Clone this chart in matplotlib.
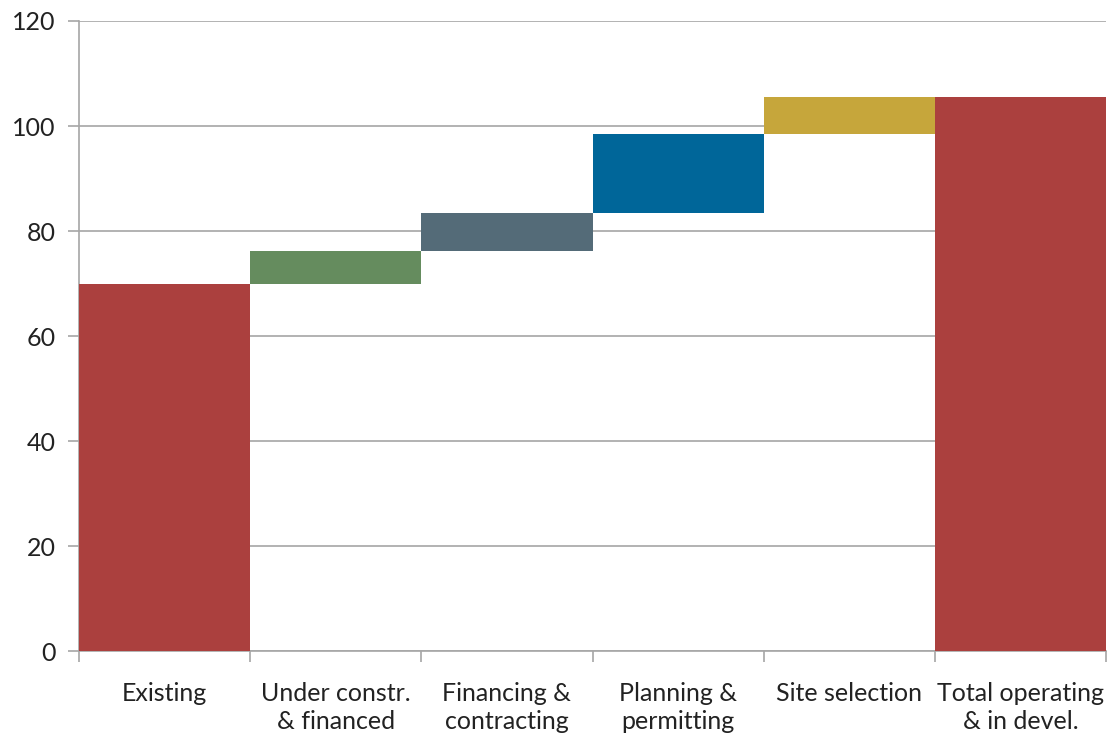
import matplotlib.pyplot as plt
import numpy as np

# waterfall: existing capacity plus pipeline stages
categories = ['Existing', 'Under constr.\n& financed', 'Financing &\ncontracting',
              'Planning &\npermitting', 'Site selection', 'Total operating\n& in devel.']
existing = 70.0
increments = [6.2, 7.2, 15.1, 7.0]
colors = ['#AB403E', '#658C5E', '#546B78', '#006699', '#C6A63B', '#AB403E']

steps = np.cumsum([existing] + increments)
total = steps[-1]
heights = [existing] + increments + [total]
bottoms = [0] + list(steps[:-1]) + [0]

plt.rcParams['font.family'] = ['Lato', 'DejaVu Sans']

fig = plt.figure(figsize=(11.15, 7.42), dpi=100)
ax = fig.add_axes([0.0709, 0.1226, 0.9211, 0.8491])

x = np.arange(len(categories))
ax.bar(x, heights, bottom=bottoms, width=1.0, color=colors, zorder=3)

ax.set_xlim(-0.5, len(categories) - 0.5)
ax.set_ylim(0, 120)
ax.set_yticks(np.arange(0, 121, 20))
ax.yaxis.grid(True, color='#A6A6A6', linewidth=1.2, zorder=0)

# boundary ticks as major, category labels on minor ticks
ax.set_xticks(np.arange(-0.5, len(categories), 1.0))
ax.set_xticklabels([])
ax.set_xticks(x, minor=True)
ax.set_xticklabels(categories, minor=True, fontsize=18, color='#222222', linespacing=1.3)
ax.tick_params(axis='x', which='major', length=8, width=1.2, color='#A6A6A6', direction='out')
ax.tick_params(axis='x', which='minor', length=0, pad=22)
ax.tick_params(axis='y', length=8, width=1.2, color='#A6A6A6', labelsize=18,
               labelcolor='#222222', pad=9)

for side in ['top', 'right']:
    ax.spines[side].set_visible(False)
for side in ['left', 'bottom']:
    ax.spines[side].set_color('#A6A6A6')
    ax.spines[side].set_linewidth(1.2)

fig.savefig('out.png', dpi=100)
